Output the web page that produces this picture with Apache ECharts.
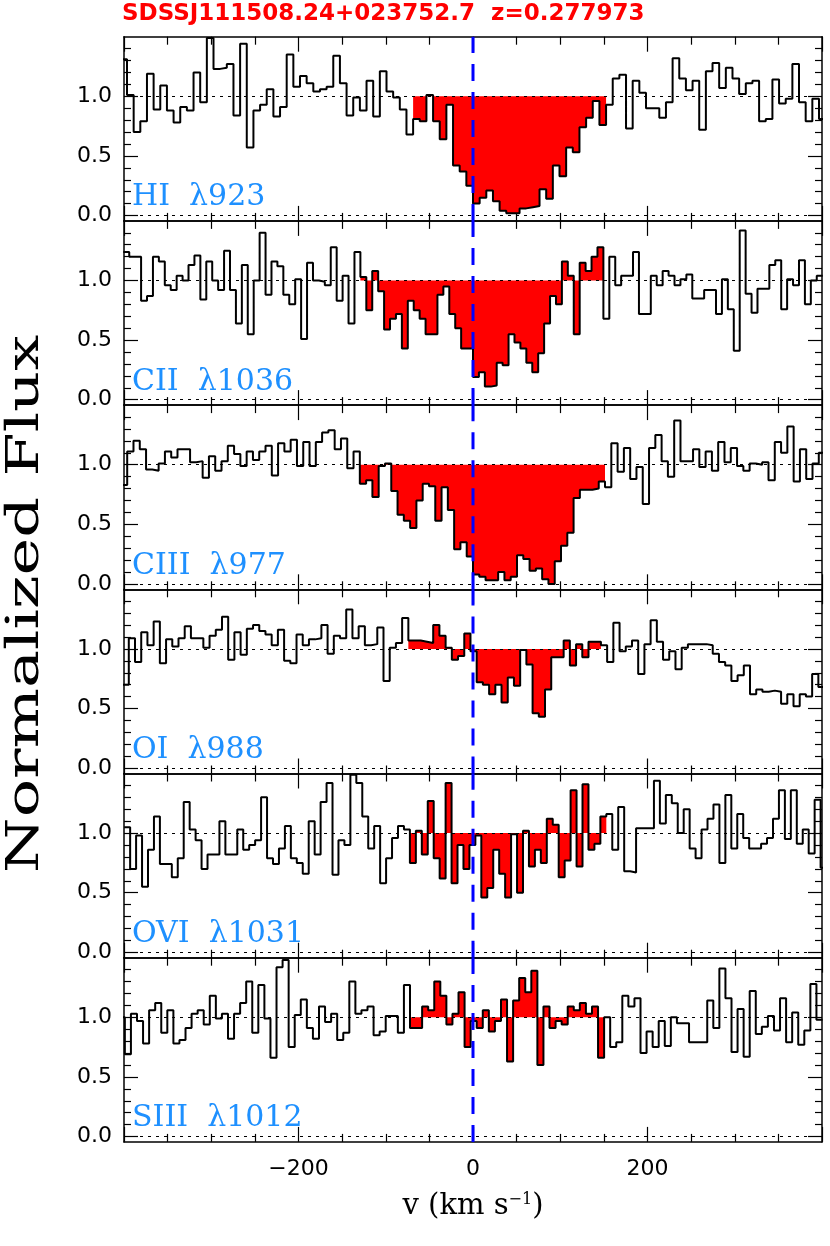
<!DOCTYPE html>
<html><head><meta charset="utf-8">
<script src="https://cdn.jsdelivr.net/npm/echarts@6/dist/echarts.min.js"></script>
<style>html,body{margin:0;padding:0;background:#fff}#c{width:830px;height:1246px}</style>
</head><body><div id="c"></div>
<script>
// ---------------- data ----------------
const titleText = 'SDSSJ111508.24+023752.7  z=0.277973';
const lineLabels = ['HI  λ923', 'CII  λ1036', 'CIII  λ977', 'OI  λ988', 'OVI  λ1031', 'SIII  λ1012'];
// velocity bin width (km/s) and left edge of the first bin (km/s) for each transition
const binWidths = [7.626, 6.793, 7.206, 7.120, 6.822, 6.953];
const firstEdges = [-404.18, -400.79, -403.54, -408.74, -399.78, -405.97];
// velocity windows whose bins are shaded (km/s)
const fillWindows = [[-72, 150], [-130, 150], [-130, 150], [-72, 150], [-72, 150], [-72, 150]];
// systemic velocity marker (km/s)
const systemicVelocity = 0;

const hiFlux = [1.31,1.01,0.70,0.79,1.19,0.89,1.09,0.88,0.78,0.91,
 0.88,1.20,0.95,1.49,1.23,1.24,1.27,0.84,1.44,0.57,
 0.88,0.93,1.06,0.83,0.91,1.35,1.08,1.17,1.11,1.04,
 1.06,1.08,1.34,1.11,0.84,0.99,0.88,1.13,0.83,1.21,
 1.04,0.99,0.89,0.68,0.81,0.79,1.01,0.79,0.64,0.93,
 0.42,0.37,0.25,0.10,0.15,0.21,0.12,0.04,0.02,0.02,
 0.06,0.07,0.08,0.22,0.14,0.42,0.33,0.57,0.53,0.74,
 0.82,0.96,0.76,0.93,1.15,1.18,0.73,1.13,1.03,0.90,
 0.90,0.82,0.95,1.32,1.15,1.05,1.13,0.72,1.21,1.28,
 1.07,1.24,1.15,1.02,1.11,1.13,0.79,0.81,1.14,0.94,
 0.98,1.27,0.95,0.79,0.98,0.81];

const ciiFlux = [1.24,1.20,1.20,0.83,0.87,1.20,1.16,0.96,0.92,1.04,
 1.00,1.13,1.21,0.84,1.16,1.00,0.92,1.25,0.92,0.64,
 1.13,0.55,1.00,1.40,0.88,1.16,1.12,0.88,0.80,1.01,
 0.51,1.15,1.00,0.99,0.96,1.28,0.83,1.04,0.64,1.24,
 1.03,0.75,1.08,0.91,0.59,0.68,0.72,0.43,0.83,0.75,
 0.68,0.55,0.55,0.88,0.95,0.72,0.60,0.43,0.43,0.19,
 0.23,0.11,0.12,0.31,0.29,0.55,0.48,0.43,0.31,0.23,
 0.39,0.64,0.87,0.80,1.16,1.04,0.55,1.15,1.08,1.20,
 1.28,0.68,1.20,0.96,1.04,1.04,1.24,0.72,0.72,1.04,
 0.96,1.08,1.04,0.96,1.01,1.05,0.85,0.85,0.92,0.92,
 0.72,1.01,0.76,0.41,1.42,0.89,0.73,0.93,0.93,1.13,
 1.17,0.76,1.01,0.96,1.17,0.80,1.00,1.04];

const ciiiFlux = [0.83,1.11,1.20,1.13,0.96,0.95,1.01,1.11,1.06,1.13,
 1.13,1.02,1.03,0.89,1.07,0.95,1.03,1.16,1.09,0.99,
 1.11,1.04,1.11,1.16,0.91,1.18,1.11,1.21,0.99,1.19,
 0.99,1.19,1.27,1.29,1.13,1.22,0.97,1.11,0.84,0.87,
 0.73,0.99,1.01,0.78,0.58,0.53,0.47,0.70,0.84,0.82,
 0.53,0.81,0.62,0.29,0.35,0.23,0.08,0.06,0.03,0.03,
 0.10,0.03,0.06,0.24,0.21,0.11,0.13,0.04,0.00,0.19,
 0.32,0.43,0.72,0.79,0.79,0.80,0.86,0.81,1.18,0.94,
 1.14,0.88,0.98,0.67,1.14,1.25,1.03,0.90,1.37,1.03,
 1.03,1.13,0.98,1.11,0.95,1.19,1.02,1.14,0.99,0.95,
 1.01,1.00,1.02,0.87,1.19,1.10,1.32,0.86,1.13,0.88,
 1.01,1.10];

const oiFlux = [0.70,0.70,1.09,0.89,1.14,1.03,1.23,0.88,1.08,1.02,
 1.09,1.19,1.09,1.09,1.01,1.11,1.16,1.27,0.91,1.14,
 0.95,1.17,1.20,1.15,1.12,1.03,1.16,0.90,0.88,1.12,
 1.03,1.08,1.09,1.20,0.96,1.11,1.09,1.33,1.09,1.19,
 1.03,1.04,1.18,0.73,1.01,1.05,1.26,1.07,1.07,1.06,
 1.05,1.20,1.11,1.01,0.91,0.94,1.13,0.98,0.72,0.70,
 0.62,0.70,0.55,0.76,0.69,0.99,0.87,0.46,0.43,0.66,
 0.93,0.93,1.07,0.86,1.04,0.93,1.06,1.06,1.03,0.89,
 1.22,0.98,1.02,1.07,0.79,1.04,1.24,1.06,0.91,0.98,
 0.83,1.01,1.04,1.04,1.04,1.03,0.96,0.89,0.86,0.73,
 0.78,0.86,0.62,0.66,0.64,0.65,0.64,0.54,0.62,0.52,
 0.62,0.60,0.79,0.68];

const oviFlux = [1.05,0.70,0.98,0.55,0.86,1.14,0.74,0.74,0.63,0.79,
 1.26,1.03,0.94,0.70,0.82,0.82,1.10,0.82,0.82,1.03,
 0.86,0.90,0.94,1.30,0.79,0.74,0.87,1.06,0.79,0.75,
 0.66,1.10,0.82,1.26,1.42,0.65,0.94,0.90,1.49,1.42,
 1.14,0.87,1.06,0.58,0.79,0.96,1.06,1.03,0.75,1.02,
 0.82,1.27,0.79,0.62,1.42,0.58,0.90,0.70,0.90,0.98,
 0.46,0.54,0.86,0.66,0.46,0.99,0.50,1.02,0.72,0.86,
 0.75,1.12,1.07,0.63,0.77,1.36,0.72,1.41,0.86,0.91,
 1.14,1.16,0.86,1.22,0.68,0.67,1.04,1.04,1.04,1.44,
 1.08,1.32,1.25,1.00,1.20,0.87,0.79,1.03,1.12,1.24,
 0.75,1.32,0.87,1.16,0.96,0.87,0.87,0.91,0.96,1.12,
 1.36,0.95,1.36,0.91,1.03,0.83,1.28,0.71];

const siiiFlux = [1.00,0.69,1.03,0.97,0.78,1.06,1.12,0.87,1.06,0.78,
 0.81,0.91,1.03,1.06,0.94,1.18,0.99,1.03,0.82,1.03,
 1.12,1.30,0.87,1.27,0.99,0.66,1.42,1.48,0.75,1.02,
 1.15,0.91,0.82,1.09,0.96,1.03,0.81,0.87,1.30,1.03,
 1.06,1.09,0.85,0.88,1.01,1.01,0.87,1.27,0.91,0.91,
 1.09,1.06,1.30,1.18,0.94,1.03,1.21,0.75,0.97,0.91,
 1.06,0.88,0.97,1.15,0.63,1.14,1.33,1.21,1.39,0.60,
 1.09,0.91,0.97,0.94,1.09,1.06,1.12,1.03,1.09,0.66,
 1.00,0.75,0.79,1.18,1.09,1.16,0.70,0.88,0.75,0.97,
 0.76,1.00,0.95,0.95,0.79,0.79,0.79,1.14,0.91,1.41,
 1.16,0.71,1.07,0.67,1.22,0.86,0.92,1.01,0.89,1.16,
 0.79,1.04,0.77,0.89,1.28,0.98];

const yMajorTicks = [0, 0.5, 1.0];
const yMinorTicks = [0.1, 0.2, 0.3, 0.4, 0.6, 0.7, 0.8, 0.9, 1.1, 1.2, 1.3, 1.4];
const xRange = [-400, 400];
const yRange = [-0.045, 1.5];

// ---------------- chart ----------------
const fluxes = [hiFlux, ciiFlux, ciiiFlux, oiFlux, oviFlux, siiiFlux];

function stepVertices(values, start, dv, win) {
  const pts = [];
  for (let i = 0; i < values.length; i++) {
    const lo = start + i * dv, hi = lo + dv, c = lo + dv / 2;
    if (win && (c < win[0] || c > win[1])) continue;
    pts.push([lo, values[i]], [hi, values[i]]);
  }
  return pts;
}

const GL = 124, GW = 698, GT = 36.7, GH = 184.2;
const grids = [], xAxes = [], yAxes = [], series = [], graphics = [];

for (let p = 0; p < 6; p++) {
  const top = GT + p * GH;
  grids.push({ left: GL, top: top, width: GW, height: GH, containLabel: false });
  const isBottom = p === 5;
  const xBase = {
    gridIndex: p, type: 'value', min: xRange[0], max: xRange[1], interval: 200,
    axisLine: { show: true, onZero: false, lineStyle: { color: '#000', width: 1.5 } },
    axisTick: { show: true, inside: true, length: 15, lineStyle: { color: '#000', width: 1.2 } },
    minorTick: { show: true, splitNumber: 4, length: 8, lineStyle: { color: '#000', width: 1.2 } },
    splitLine: { show: false }, minorSplitLine: { show: false }
  };
  xAxes.push(Object.assign({}, xBase, {
    position: 'bottom',
    axisLabel: isBottom ? {
      show: true, showMinLabel: false, showMaxLabel: false, margin: 16, color: '#000',
      fontSize: 22, fontFamily: 'DejaVu Sans',
      formatter: v => (v < 0 ? '\u2212' : '') + Math.abs(v)
    } : { show: false },
    name: isBottom ? 'v (km s{sup|\u22121})' : '',
    nameLocation: 'middle', nameGap: 50,
    nameTextStyle: {
      color: '#000', fontFamily: 'DejaVu Serif', fontSize: 29,
      rich: { sup: { fontFamily: 'DejaVu Serif', fontSize: 16, verticalAlign: 'top', color: '#000' } }
    }
  }));
  xAxes.push(Object.assign({}, xBase, { position: 'top', axisLabel: { show: false } }));

  const yBase = {
    gridIndex: p, type: 'value', min: yRange[0], max: yRange[1],
    splitLine: { show: false },
    axisLine: { show: true, onZero: false, lineStyle: { color: '#000', width: 1.5 } }
  };
  ['left', 'right'].forEach(side => {
    yAxes.push(Object.assign({}, yBase, {
      position: side,
      axisTick: { show: true, inside: true, length: 14, customValues: yMajorTicks, lineStyle: { color: '#000', width: 1.2 } },
      axisLabel: side === 'left' ? {
        show: true, customValues: yMajorTicks, margin: 12, color: '#000', fontSize: 22,
        fontFamily: 'DejaVu Sans', formatter: v => v.toFixed(1)
      } : { show: false }
    }));
    yAxes.push(Object.assign({}, yBase, {
      position: side,
      axisLine: { show: false, onZero: false },
      axisTick: { show: true, inside: true, length: 7, customValues: yMinorTicks, lineStyle: { color: '#000', width: 1.2 } },
      axisLabel: { show: false }
    }));
  });

  const xi = 2 * p, yi = 4 * p;
  const vals = fluxes[p];
  series.push({
    type: 'line', xAxisIndex: xi, yAxisIndex: yi, silent: true, z: 2,
    data: stepVertices(vals, firstEdges[p], binWidths[p], fillWindows[p]),
    symbol: 'none', lineStyle: { width: 0, color: '#ff0000' },
    areaStyle: { color: '#ff0000', opacity: 1, origin: 1 }
  });
  series.push({
    type: 'line', xAxisIndex: xi, yAxisIndex: yi, silent: true, z: 3,
    data: stepVertices(vals, firstEdges[p], binWidths[p], null),
    symbol: 'none', lineStyle: { width: 2, color: '#000' },
    markLine: {
      silent: true, symbol: 'none', label: { show: false }, animation: false,
      lineStyle: { color: '#000', width: 1, type: [3, 5] },
      data: [{ yAxis: 1 }, { yAxis: 0 }]
    }
  });
  // vertical dashed line at the systemic velocity, spanning the panel's y range
  series.push({
    type: 'line', xAxisIndex: xi, yAxisIndex: yi, silent: true, z: 10,
    data: [[systemicVelocity, yRange[0]], [systemicVelocity, yRange[1]]],
    symbol: 'none', clip: false,
    lineStyle: { color: '#0000ff', width: 3, type: [17, 11] }
  });

  graphics.push({
    type: 'text', x: 132, y: top + 146, silent: true,
    style: { text: lineLabels[p], fill: '#1e90ff', font: '30px "DejaVu Serif"', textAlign: 'left', textVerticalAlign: 'top' }
  });
}

graphics.push({
  type: 'text', x: 122, y: 3, silent: true,
  style: { text: titleText, fill: '#ff0000', font: 'bold 23px "DejaVu Sans"', textAlign: 'left', textVerticalAlign: 'top' }
});
graphics.push({
  type: 'text', x: 27, y: 604, rotation: Math.PI / 2, scaleX: 1.45, silent: true,
  style: { text: 'Normalized Flux', fill: '#000', font: '44px "DejaVu Serif"', textAlign: 'center', textVerticalAlign: 'middle' }
});

const chart = echarts.init(document.getElementById('c'), null, { renderer: 'canvas' });
chart.setOption({
  animation: false,
  backgroundColor: '#fff',
  grid: grids, xAxis: xAxes, yAxis: yAxes, series: series, graphic: graphics
});
</script></body></html>
